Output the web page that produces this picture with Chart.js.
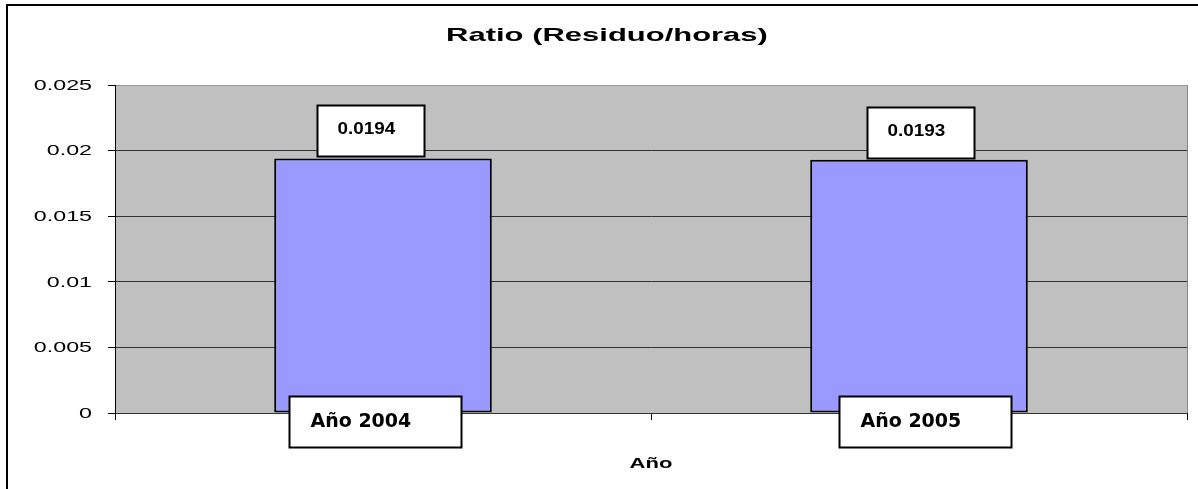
<!DOCTYPE html>
<html><head><meta charset="utf-8">
<script src="https://cdn.jsdelivr.net/npm/chart.js@4"></script>
<style>html,body{margin:0;padding:0;background:#fff}#wrap{width:1198px;height:489px}</style>
</head><body><div id="wrap"><canvas id="c" width="1198" height="489"></canvas></div>
<script>
const chartTitle = 'Ratio (Residuo/horas)';
const categories = ['Año 2004', 'Año 2005'];
const ratioValues = [0.0194, 0.0193];
const valueLabels = ['0.0194', '0.0193'];
const yTickLabels = ['0', '0.005', '0.01', '0.015', '0.02', '0.025'];
const xAxisTitle = 'Año';

// style / placement tweaks (not data)
const valueBoxNudge = [-66, -52];
const catBoxNudge = [-94, -80];

function stretchText(ctx, text, x, y, font, sx, align) {
  ctx.save();
  ctx.font = font;
  ctx.textBaseline = 'middle';
  ctx.textAlign = 'left';
  const w = ctx.measureText(text).width * sx;
  let left = x;
  if (align === 'center') left = x - w / 2;
  else if (align === 'right') left = x - w;
  ctx.translate(left, y);
  ctx.scale(sx, 1);
  ctx.fillStyle = '#000';
  ctx.fillText(text, 0, 0);
  ctx.restore();
}

function box(ctx, x, y, w, h) {
  ctx.save();
  ctx.fillStyle = '#fff';
  ctx.fillRect(x, y, w, h);
  ctx.strokeStyle = '#000';
  ctx.lineWidth = 2;
  ctx.strokeRect(x, y, w, h);
  ctx.restore();
}

const decor = {
  id: 'decor',
  beforeDraw(chart) {
    const { ctx, chartArea: a } = chart;
    ctx.save();
    ctx.fillStyle = '#fff';
    ctx.fillRect(0, 0, chart.width, chart.height);
    ctx.strokeStyle = '#000';
    ctx.lineWidth = 2;
    ctx.strokeRect(7, 5, chart.width + 20, chart.height + 20);
    ctx.fillStyle = '#C0C0C0';
    ctx.fillRect(a.left, a.top, a.right - a.left, a.bottom - a.top);
    ctx.restore();
  },
  afterDatasetsDraw(chart) {
    const { ctx, chartArea: a } = chart;
    // right frame
    ctx.save();
    ctx.strokeStyle = '#888';
    ctx.lineWidth = 1;
    ctx.beginPath();
    ctx.moveTo(a.right + 0.5, a.top);
    ctx.lineTo(a.right + 0.5, a.bottom);
    ctx.stroke();
    ctx.restore();

    const bars = chart.getDatasetMeta(0).data;
    bars.forEach((bar, i) => {
      // value label box
      const bw = 107, bh = 51;
      const bx = Math.round(bar.x + valueBoxNudge[i]) + 0.5;
      const bottom = Math.round(bar.y - 2) + 0.5;
      box(ctx, bx, bottom - bh, bw, bh);
      stretchText(ctx, valueLabels[i], bx + 20, bottom - bh / 2 - 1, 'bold 16px "Liberation Sans", Arial, sans-serif', 1.18, 'left');
      // category label box
      const cw = 172, ch = 51;
      const cx = Math.round(bar.x + catBoxNudge[i]) + 0.5;
      const cy = Math.round(a.bottom - 17) + 0.5;
      box(ctx, cx, cy, cw, ch);
      stretchText(ctx, categories[i], cx + 21, cy + 26, 'bold 19px "DejaVu Sans", sans-serif', 1.0, 'left');
    });

    // y tick labels
    const ys = chart.scales.y;
    yTickLabels.forEach(t => {
      const py = ys.getPixelForValue(parseFloat(t));
      stretchText(ctx, t, ys.right - 23, py + 1, '14px "Liberation Sans", Arial, sans-serif', 1.66, 'right');
    });

    // title
    stretchText(ctx, chartTitle, chart.width / 2 + 8, 35.5, 'bold 19px "Liberation Sans", Arial, sans-serif', 1.63, 'center');
    // x axis title
    const xs = chart.scales.x;
    stretchText(ctx, xAxisTitle, (xs.left + xs.right) / 2, 464, 'bold 15px "Liberation Sans", Arial, sans-serif', 1.47, 'center');
  }
};

new Chart(document.getElementById('c'), {
  type: 'bar',
  data: {
    labels: categories,
    datasets: [{
      data: ratioValues,
      backgroundColor: '#9999FF',
      borderColor: '#000',
      borderWidth: 2,
      borderSkipped: false,
      barPercentage: 0.406,
      categoryPercentage: 1
    }]
  },
  options: {
    responsive: false,
    animation: false,
    devicePixelRatio: 1,
    layout: { padding: { left: 0, right: 11, top: 85, bottom: 0 } },
    plugins: { legend: { display: false }, tooltip: { enabled: false }, title: { display: false } },
    scales: {
      x: {
        offset: true,
        ticks: { display: false },
        grid: { drawOnChartArea: false, tickLength: 7, color: '#000', lineWidth: 1 },
        border: { color: '#333', width: 1 },
        afterFit(s) { s.height = 76; }
      },
      y: {
        min: 0, max: 0.025,
        ticks: { display: false, stepSize: 0.005 },
        grid: {
          tickLength: 7,
          color: c => (c.tick && Math.abs(c.tick.value - 0.025) < 1e-9) ? '#999' : '#333',
          tickColor: '#000',
          lineWidth: 1
        },
        border: { color: '#000', width: 1 },
        afterFit(s) { s.width = 115; }
      }
    }
  },
  plugins: [decor]
});
</script>
</body></html>
